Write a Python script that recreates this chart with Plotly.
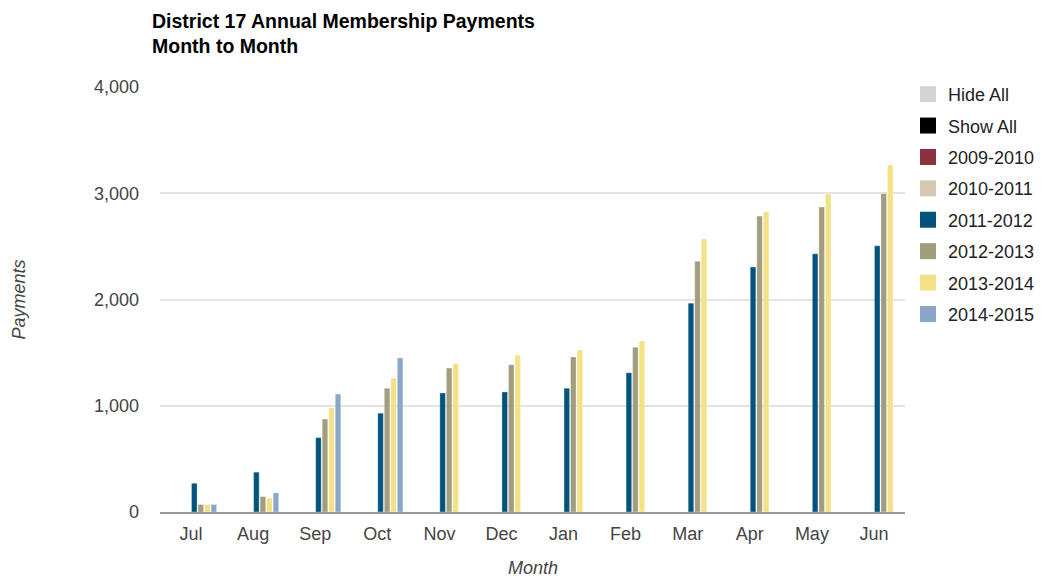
import plotly.graph_objects as go

months = ["Jul", "Aug", "Sep", "Oct", "Nov", "Dec", "Jan", "Feb", "Mar", "Apr", "May", "Jun"]
series_names = ["Hide All", "Show All", "2009-2010", "2010-2011", "2011-2012", "2012-2013", "2013-2014", "2014-2015"]
colors = ["#d4d4d4", "#000000", "#8a3241", "#d4c8b2", "#03547c", "#a29d7e", "#f3e185", "#8aa6c8"]

v_hide = [None] * 12
v_show = [None] * 12
v_2009 = [None] * 12
v_2010 = [None] * 12
v_2011 = [270, 375, 700, 930, 1120, 1130, 1165, 1310, 1965, 2305, 2430, 2505]
v_2012 = [70, 145, 875, 1165, 1355, 1385, 1460, 1550, 2360, 2785, 2870, 2995]
v_2013 = [70, 130, 980, 1260, 1395, 1475, 1525, 1610, 2570, 2825, 2995, 3265]
v_2014 = [70, 180, 1110, 1450, None, None, None, None, None, None, None, None]

values = [v_hide, v_show, v_2009, v_2010, v_2011, v_2012, v_2013, v_2014]

FONT = "Liberation Sans, Arial, sans-serif"

fig = go.Figure()
for i, (name, col, vals) in enumerate(zip(series_names, colors, values)):
    fig.add_trace(go.Bar(
        x=months, y=vals, name=name, legendgroup=f"g{i}",
        marker=dict(color=col, line=dict(color="rgba(255,255,255,0.6)", width=0.5)),
        showlegend=False,
    ))
# legend entries with larger square swatches
for i, (name, col) in enumerate(zip(series_names, colors)):
    fig.add_trace(go.Scatter(
        x=[None], y=[None], mode="markers", name=name, legendgroup=f"g{i}",
        marker=dict(symbol="square", size=17, color=col), showlegend=True,
        hoverinfo="skip",
    ))

fig.update_layout(
    width=1055, height=578,
    barmode="group", bargap=0.16, bargroupgap=0.15,
    paper_bgcolor="white", plot_bgcolor="white",
    font=dict(family=FONT, size=18, color="#444444"),
    margin=dict(l=152, r=158, t=79, b=74),
    legend=dict(
        x=1.004, xanchor="left", y=1.026, yanchor="top",
        font=dict(size=18, color="#222222"),
        tracegroupgap=5, itemsizing="trace", itemwidth=30,
        traceorder="grouped",
    ),
    xaxis=dict(
        showgrid=False, showline=True, linecolor="#999999", linewidth=1.5,
        ticks="", tickfont=dict(size=18, color="#444444"), ticklabelstandoff=5,
    ),
    yaxis=dict(
        range=[0, 4000], tickvals=[0, 1000, 2000, 3000, 4000],
        tickformat=",", showgrid=True, gridcolor="#e3e3e3", gridwidth=1.5,
        zeroline=False, showline=False, ticks="", ticklen=0,
        tickfont=dict(size=18, color="#444444"), ticklabelstandoff=20,
    ),
    annotations=[
        dict(text="<b>District 17 Annual Membership Payments<br>Month to Month</b>",
             xref="paper", yref="paper", x=-0.0134, y=1.186, xanchor="left", yanchor="top",
             align="left", showarrow=False, font=dict(size=19.5, color="#000000", family=FONT)),
        dict(text="<i>Payments</i>", xref="paper", yref="paper", x=-0.1893, y=0.5,
             xanchor="center", yanchor="middle", textangle=-90, showarrow=False,
             font=dict(size=18, color="#444444", family=FONT)),
        dict(text="<i>Month</i>", xref="paper", yref="paper", x=0.5, y=-0.132,
             xanchor="center", yanchor="middle", showarrow=False,
             font=dict(size=18, color="#444444", family=FONT)),
    ],
)

fig.write_html("out.html")
